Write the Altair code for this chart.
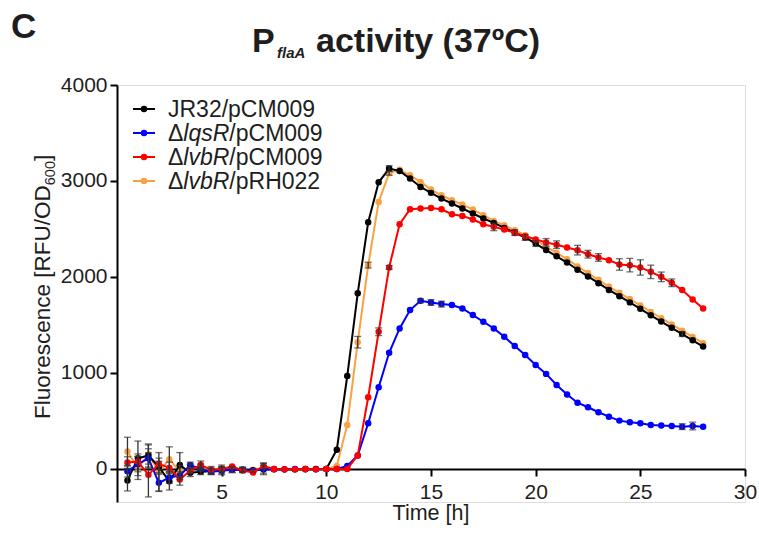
import altair as alt
import pandas as pd

FONT = "Liberation Sans"
TXT = "#1e1e1e"

time_h = [0.5, 1.0, 1.5, 2.0, 2.5, 3.0, 3.5, 4.0, 4.5, 5.0, 5.5, 6.0, 6.5, 7.0,
          7.5, 8.0, 8.5, 9.0, 9.5, 10.0, 10.5, 11.0, 11.5, 12.0, 12.5, 13.0, 13.5,
          14.0, 14.5, 15.0, 15.5, 16.0, 16.5, 17.0, 17.5, 18.0, 18.5, 19.0, 19.5,
          20.0, 20.5, 21.0, 21.5, 22.0, 22.5, 23.0, 23.5, 24.0, 24.5, 25.0, 25.5,
          26.0, 26.5, 27.0, 27.5, 28.0]

series_names = ["JR32/pCM009", "ΔlqsR/pCM009", "ΔlvbR/pCM009", "ΔlvbR/pRH022"]
series_colors = ["#000000", "#0000ff", "#ff0000", "#f9a245"]

jr32 = [-120, 110, 140, 20, -130, 40, -40, -30, -25, -15, -5, -10, -15, -5,
        -5, -5, -5, -5, 0, 0, 200, 968, 1831, 2570, 2986, 3129, 3104,
        3025, 2938, 2876, 2817, 2765, 2713, 2661, 2609, 2563, 2511, 2463, 2411,
        2348, 2280, 2215, 2150, 2075, 2005, 1935, 1865, 1800, 1735, 1668, 1600,
        1535, 1470, 1405, 1340, 1275]
lqsr = [-25, 50, 110, -145, -90, -70, 40, 0, -30, -20, -10, -10, -20, -5,
        0, -5, 0, 0, -5, 0, 0, 30, 140, 475, 850, 1210, 1464,
        1655, 1751, 1734, 1717, 1707, 1672, 1603, 1533, 1464, 1377, 1280, 1186,
        1082, 990, 874, 775, 690, 642, 590, 544, 503, 486, 475, 458,
        451, 447, 440, 447, 440]
lvbr = [66, 76, -62, 52, 10, -110, -17, 42, -10, 0, 24, -17, -38, 30,
        0, -5, -5, 0, -5, 0, 0, 0, 140, 746, 1429, 2099, 2549,
        2705, 2712, 2719, 2705, 2653, 2636, 2598, 2549, 2522, 2494, 2459, 2425,
        2390, 2360, 2336, 2307, 2279, 2237, 2203, 2175, 2130, 2123, 2099, 2053,
        2001, 1939, 1863, 1766, 1672]
rh022 = [180, 10, 150, -30, 100, -25, 10, 20, -15, 10, 15, -10, -10, 0,
         -5, -5, -5, 0, 0, 0, 30, 458, 1320, 2123, 2782, 3080, 3118,
         3059, 2990, 2910, 2851, 2799, 2754, 2702, 2643, 2584, 2539, 2487, 2435,
         2383, 2315, 2250, 2185, 2110, 2040, 1970, 1900, 1835, 1770, 1703, 1635,
         1570, 1505, 1440, 1375, 1310]

jr32_sd = [110, 180, 120, 60, 90, 130, 40, 30, 30, 30, 30, 20, 20, 40,
           0, 0, 0, 0, 0, 0, 0, 0, 0, 0, 0, 30, 0,
           0, 0, 0, 0, 0, 0, 0, 0, 0, 0, 30, 30,
           30, 0, 0, 0, 0, 0, 0, 0, 0, 0, 0, 0,
           0, 0, 25, 0, 0]
lqsr_sd = [60, 80, 100, 90, 60, 40, 30, 20, 30, 40, 30, 20, 0, 0,
           0, 0, 0, 0, 0, 0, 0, 0, 0, 0, 0, 0, 0,
           0, 20, 30, 30, 0, 0, 0, 0, 0, 0, 0, 0,
           0, 0, 0, 0, 0, 0, 0, 0, 0, 0, 0, 0,
           0, 0, 30, 40, 0]
lvbr_sd = [60, 80, 230, 60, 60, 60, 30, 40, 0, 20, 0, 0, 0, 30,
           0, 0, 0, 0, 0, 0, 0, 0, 0, 0, 40, 20, 0,
           0, 0, 0, 0, 0, 0, 0, 0, 40, 0, 0, 0,
           0, 40, 40, 0, 50, 40, 40, 0, 60, 70, 80, 70,
           50, 40, 0, 0, 0]
rh022_sd = [150, 120, 100, 200, 130, 60, 40, 30, 40, 30, 0, 30, 0, 60,
            0, 0, 0, 0, 0, 0, 0, 0, 60, 30, 0, 20, 0,
            0, 0, 0, 0, 0, 0, 0, 0, 0, 0, 0, 0,
            0, 0, 0, 0, 0, 0, 0, 0, 0, 0, 0, 0,
            0, 0, 0, 0, 0]

values = [jr32, lqsr, lvbr, rh022]
sds = [jr32_sd, lqsr_sd, lvbr_sd, rh022_sd]

rows = []
for name, vals, errs in zip(series_names, values, sds):
    for t, v, e in zip(time_h, vals, errs):
        rows.append({"series": name, "time": t, "value": v, "sd": e,
                     "lo": v - e, "hi": v + e})
df = pd.DataFrame(rows)

x_enc = alt.X("time:Q", scale=alt.Scale(domain=[0, 30], nice=False, zero=False),
              axis=alt.Axis(values=[5, 10, 15, 20, 25, 30], offset=-33, title=None,
                            domainColor="black", domainWidth=2, tickColor="black",
                            tickWidth=2, tickSize=7, labelFontSize=21, labelFont=FONT,
                            labelColor=TXT, labelPadding=5, grid=False, labelFlush=False,
                            format="d"))
y_enc = alt.Y("value:Q", scale=alt.Scale(domain=[-345, 4000], nice=False, zero=False),
              axis=alt.Axis(values=[0, 1000, 2000, 3000, 4000], title=None,
                            domainColor="black", domainWidth=2, tickColor="black",
                            tickWidth=2, tickSize=7, labelFontSize=21, labelFont=FONT,
                            labelColor=TXT, labelPadding=3, grid=False, format="d"))
color_enc = alt.Color("series:N", scale=alt.Scale(domain=series_names, range=series_colors),
                      legend=None)

base = alt.Chart(df)
layers = []
for name in ["ΔlvbR/pRH022", "JR32/pCM009", "ΔlqsR/pCM009", "ΔlvbR/pCM009"]:
    sub = base.transform_filter(alt.datum.series == name)
    layers.append(sub.mark_line(strokeWidth=2).encode(x=x_enc, y=y_enc, color=color_enc))
    layers.append(sub.mark_circle(size=42, opacity=1).encode(x=x_enc, y=y_enc, color=color_enc))

err = base.transform_filter(alt.datum.sd > 0)
layers.append(err.mark_rule(color="#333333", strokeWidth=1.3).encode(
    x="time:Q", y="lo:Q", y2="hi:Q"))
layers.append(err.mark_tick(orient="horizontal", size=7, thickness=1.3, color="#333333").encode(
    x="time:Q", y="lo:Q"))
layers.append(err.mark_tick(orient="horizontal", size=7, thickness=1.3, color="#333333").encode(
    x="time:Q", y="hi:Q"))


def label(txt, x, y, size, weight="normal", style="normal", align="left", angle=0,
          baseline="alphabetic"):
    return alt.Chart(alt.Data(values=[{}])).mark_text(
        text=txt, fontSize=size, fontWeight=weight, fontStyle=style, align=align,
        baseline=baseline, font=FONT, color=TXT, angle=angle
    ).encode(x=alt.value(x), y=alt.value(y))


# panel letter and title
layers.append(label("C", -106, -47, 35, weight="bold"))
layers.append(label("P", 135, -33, 34, weight="bold"))
layers.append(label("flaA", 160, -27, 15, weight="bold", style="italic"))
layers.append(label("activity (37ºC)", 199, -33, 34, weight="bold"))

# axis titles
layers.append(label("Time [h]", 314, 435, 21.5, align="center"))
layers.append(label("Fluorescence [RFU/OD", -67, 334, 22.5, angle=270))
layers.append(label("600", -62, 100.2, 14.5, angle=270))
layers.append(label("]", -67, 76, 22.5, angle=270))

# legend
leg_fs = 23
delta_w = 0.667 * leg_fs
ital_w = 2.0 * leg_fs
for i, (name, col) in enumerate(zip(series_names, series_colors)):
    yc = 24 + 24 * i
    yb = yc + 8
    layers.append(alt.Chart(alt.Data(values=[{}])).mark_rule(color=col, strokeWidth=2).encode(
        x=alt.value(16), x2=alt.value(38), y=alt.value(yc)))
    layers.append(alt.Chart(alt.Data(values=[{}])).mark_circle(color=col, size=42, opacity=1).encode(
        x=alt.value(27), y=alt.value(yc)))
    if name.startswith("Δ"):
        ital = name[1:].split("/")[0]
        rest = "/" + name.split("/")[1]
        layers.append(label("Δ", 51, yb, leg_fs))
        layers.append(label(ital, 51 + delta_w, yb, leg_fs, style="italic"))
        layers.append(label(rest, 51 + delta_w + ital_w, yb, leg_fs))
    else:
        layers.append(label(name, 51, yb, leg_fs))

chart = alt.layer(*layers).properties(
    width=628, height=417,
    autosize=alt.AutoSizeParams(type="none"),
    padding={"left": 117, "top": 85, "right": 14, "bottom": 34},
).configure_view(stroke=None).configure(background="white")

chart.save("out.html", embed_options={"renderer": "svg", "actions": False})
